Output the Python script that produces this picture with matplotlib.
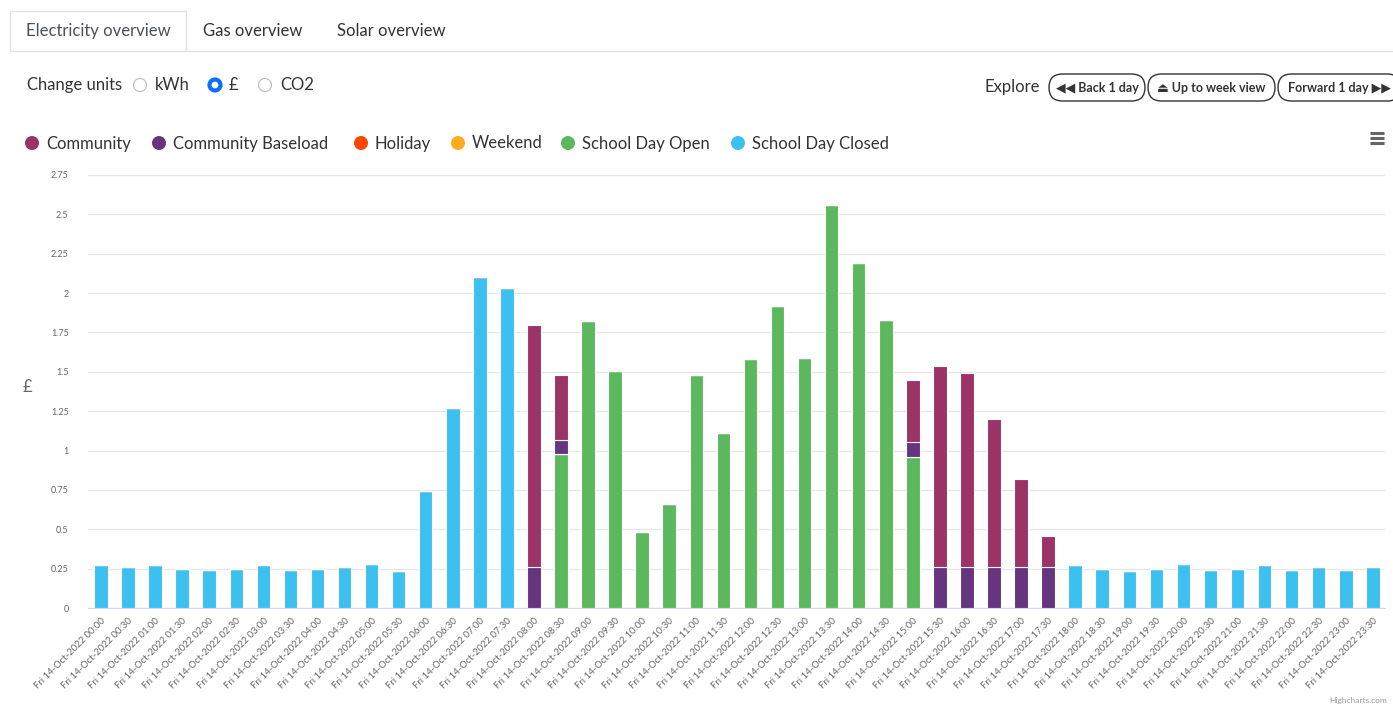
import matplotlib.pyplot as plt
import numpy as np
from matplotlib.patches import FancyBboxPatch, Rectangle, Circle

plt.rcParams['font.family'] = ['Lato', 'DejaVu Sans']

# half-hourly periods for Fri 14-Oct-2022
times = ['00:00', '00:30', '01:00', '01:30', '02:00', '02:30', '03:00', '03:30',
         '04:00', '04:30', '05:00', '05:30', '06:00', '06:30', '07:00', '07:30',
         '08:00', '08:30', '09:00', '09:30', '10:00', '10:30', '11:00', '11:30',
         '12:00', '12:30', '13:00', '13:30', '14:00', '14:30', '15:00', '15:30',
         '16:00', '16:30', '17:00', '17:30', '18:00', '18:30', '19:00', '19:30',
         '20:00', '20:30', '21:00', '21:30', '22:00', '22:30', '23:00', '23:30']
labels = ['Fri 14-Oct-2022 ' + t for t in times]

school_closed = [0.27, 0.26, 0.27, 0.25, 0.24, 0.25, 0.27, 0.24,
                 0.25, 0.26, 0.28, 0.235, 0.74, 1.27, 2.10, 2.03,
                 0, 0, 0, 0, 0, 0, 0, 0,
                 0, 0, 0, 0, 0, 0, 0, 0,
                 0, 0, 0, 0, 0.27, 0.25, 0.235, 0.25,
                 0.28, 0.24, 0.25, 0.27, 0.24, 0.26, 0.24, 0.26]
school_open = [0, 0, 0, 0, 0, 0, 0, 0,
               0, 0, 0, 0, 0, 0, 0, 0,
               0, 0.98, 1.82, 1.505, 0.48, 0.66, 1.48, 1.11,
               1.58, 1.92, 1.59, 2.56, 2.19, 1.83, 0.96, 0,
               0, 0, 0, 0, 0, 0, 0, 0,
               0, 0, 0, 0, 0, 0, 0, 0]
weekend = [0] * 48
holiday = [0] * 48
baseload = [0, 0, 0, 0, 0, 0, 0, 0,
            0, 0, 0, 0, 0, 0, 0, 0,
            0.26, 0.09, 0, 0, 0, 0, 0, 0,
            0, 0, 0, 0, 0, 0, 0.095, 0.26,
            0.26, 0.26, 0.26, 0.26, 0, 0, 0, 0,
            0, 0, 0, 0, 0, 0, 0, 0]
community = [0, 0, 0, 0, 0, 0, 0, 0,
             0, 0, 0, 0, 0, 0, 0, 0,
             1.54, 0.41, 0, 0, 0, 0, 0, 0,
             0, 0, 0, 0, 0, 0, 0.395, 1.28,
             1.23, 0.94, 0.56, 0.20, 0, 0, 0, 0,
             0, 0, 0, 0, 0, 0, 0, 0]

series_names = ['Community', 'Community Baseload', 'Holiday', 'Weekend',
                'School Day Open', 'School Day Closed']
colours = ['#9c3367', '#67347f', '#ff4500', '#ffac21', '#5cb85c', '#3bc0f0']

W, H = 1393, 705
fig = plt.figure(figsize=(W / 100, H / 100), dpi=100)

# overlay in pixel coordinates for the page furniture
ui = fig.add_axes([0, 0, 1, 1])
ui.set_xlim(0, W)
ui.set_ylim(H, 0)
ui.axis('off')

ax = fig.add_axes([88 / W, 1 - 608 / H, (1385 - 88) / W, (608 - 175) / H])

x = np.arange(len(labels))
# stack from bottom: last legend series sits at the bottom
stack = [(school_closed, colours[5]), (school_open, colours[4]),
         (weekend, colours[3]), (holiday, colours[2]),
         (baseload, colours[1]), (community, colours[0])]
bottom = np.zeros(len(labels))
for vals, col in stack:
    vals = np.array(vals, dtype=float)
    ax.bar(x, vals, 0.5, bottom=bottom, color=col, edgecolor='white',
           linewidth=0.8, zorder=3)
    bottom += vals

ax.set_xlim(-0.48, 47.45)
ax.set_ylim(0, 2.75)
ax.set_yticks(np.arange(0, 2.76, 0.25))
ax.set_yticklabels(['0', '0.25', '0.5', '0.75', '1', '1.25', '1.5', '1.75',
                    '2', '2.25', '2.5', '2.75'])
ax.grid(axis='y', color='#e6e6e6', linewidth=0.9, zorder=0)
ax.set_xticks(x)
ax.set_xticklabels(labels, rotation=45, ha='right', rotation_mode='anchor',
                   fontsize=6.8, color='#666666')
ax.tick_params(axis='x', length=0, pad=6)
ax.tick_params(axis='y', length=0, labelsize=6.5, labelcolor='#666666', pad=14)
for side in ['top', 'right', 'left']:
    ax.spines[side].set_visible(False)
ax.spines['bottom'].set_color('#ccd6eb')
ui.text(27, 387, '£', ha='center', va='center', fontsize=12, color='#666666')

# tabs
ui.plot([186, W], [51, 51], color='#dee2e6', lw=1)
ui.add_patch(Rectangle((10, 11), 176, 40, facecolor='white',
                       edgecolor='#dee2e6', lw=1))
ui.text(98, 31, 'Electricity overview', ha='center', va='center',
        fontsize=12, color='#495057')
ui.text(253, 31, 'Gas overview', ha='center', va='center',
        fontsize=12, color='#333333')
ui.text(391, 31, 'Solar overview', ha='center', va='center',
        fontsize=12, color='#333333')

# unit selector
ui.text(27, 85, 'Change units', va='center', fontsize=12, color='#333333')
for cx, sel in [(140, False), (215, True), (265, False)]:
    if sel:
        ui.add_patch(Circle((cx, 85), 5.5, facecolor='white',
                            edgecolor='#0d6efd', lw=3))
    else:
        ui.add_patch(Circle((cx, 85), 6.5, facecolor='white',
                            edgecolor='#bbbbbb', lw=0.8))
ui.text(155, 85, 'kWh', va='center', fontsize=12, color='#333333')
ui.text(229, 85, '£', va='center', fontsize=12, color='#333333')
ui.text(280, 85, 'CO2', va='center', fontsize=12, color='#333333')

# explore buttons
ui.text(985, 87, 'Explore', va='center', fontsize=12, color='#333333')
buttons = [(1048, 1146, '◀◀ Back 1 day'), (1147, 1276, '⏏ Up to week view'),
           (1277, 1402, 'Forward 1 day ▶▶')]
for x0, x1, txt in buttons:
    ui.add_patch(FancyBboxPatch((x0 + 1, 74), x1 - x0 - 2, 27,
                                boxstyle='round,pad=0,rounding_size=13.5',
                                facecolor='white', edgecolor='#333333', lw=1))
    ui.text((x0 + x1) / 2, 87.5, txt, ha='center', va='center',
            fontsize=9, fontweight='bold', color='#333333')

# legend
leg_items = [32, 159, 361, 458, 568, 738]
for lx, name, col in zip(leg_items, series_names, colours):
    ui.add_patch(Circle((lx, 143), 7, facecolor=col, edgecolor='none'))
    ui.text(lx + 14, 143.5, name, va='center', fontsize=12, color='#333333')

# menu icon
for dy in [133, 138, 143]:
    ui.plot([1370, 1384], [dy, dy], color='#666666', lw=2.2,
            solid_capstyle='butt')

ui.text(1387, 701, 'Highcharts.com', ha='right', va='center',
        fontsize=6, color='#999999')

fig.savefig('out.png', dpi=100)
